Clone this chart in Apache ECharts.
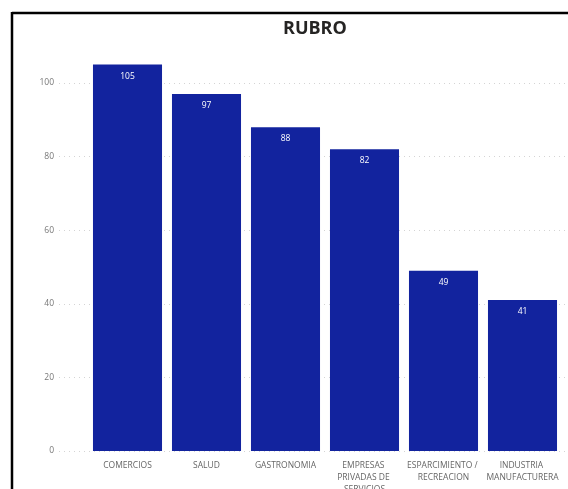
<!DOCTYPE html>
<html><head><meta charset="utf-8">
<script src="https://cdn.jsdelivr.net/npm/echarts@6/dist/echarts.min.js"></script>
<style>html,body{margin:0;padding:0;background:#fff}#c{width:568px;height:489px}</style>
</head><body><div id="c"></div>
<script>
const categories = ['COMERCIOS','SALUD','GASTRONOMIA','EMPRESAS PRIVADAS DE SERVICIOS','ESPARCIMIENTO / RECREACION','INDUSTRIA MANUFACTURERA'];
const values = [105, 97, 88, 82, 49, 41];
const yTicks = [0, 20, 40, 60, 80, 100];

const chart = echarts.init(document.getElementById('c'));
const font = '"Open Sans", "Segoe UI", sans-serif';
chart.setOption({
  animation: false,
  title: {
    text: 'RUBRO', left: 278, top: 15,
    textStyle: {fontFamily: font, fontWeight: 'bold', fontSize: 18, color: '#252423'}
  },
  graphic: [
    {type: 'line', shape: {x1: 12, y1: 13, x2: 568, y2: 13}, style: {stroke: '#000', lineWidth: 2.5}},
    {type: 'line', shape: {x1: 12, y1: 12, x2: 12, y2: 489}, style: {stroke: '#000', lineWidth: 2.5}}
  ],
  grid: [
    {left: 59, right: 0, top: 83, height: 368, outerBoundsMode: 'none', containLabel: false},
    {left: 88, width: 474, top: 83, height: 368, outerBoundsMode: 'none', containLabel: false}
  ],
  xAxis: [
    {gridIndex: 0, type: 'category', data: categories, show: false},
    {gridIndex: 1, type: 'category', data: categories,
     axisLine: {show: false}, axisTick: {show: false},
     axisLabel: {interval: 0, color: '#666', fontFamily: font, fontSize: 8.5, margin: 9,
       lineHeight: 12, width: 76, overflow: 'break', align: 'center'}}
  ],
  yAxis: [
    {gridIndex: 0, type: 'value', min: 0, max: 100, interval: 20,
     axisLine: {show: false}, axisTick: {show: false},
     axisLabel: {color: '#777', fontFamily: font, fontSize: 8.5, margin: 5,
       formatter: v => yTicks.includes(v) ? String(v) : ''},
     splitLine: {lineStyle: {color: '#d4d4d4', type: [1, 4], width: 1}}},
    {gridIndex: 1, type: 'value', min: 0, max: 100, interval: 20, show: false, splitLine: {show: false}}
  ],
  series: [{
    type: 'bar', xAxisIndex: 1, yAxisIndex: 1, data: values, clip: false,
    barCategoryGap: '12.6%',
    itemStyle: {color: '#12239E'},
    label: {show: true, position: 'insideTop', distance: 7, color: '#fff', fontFamily: font, fontSize: 8.5}
  }]
});
</script></body></html>
